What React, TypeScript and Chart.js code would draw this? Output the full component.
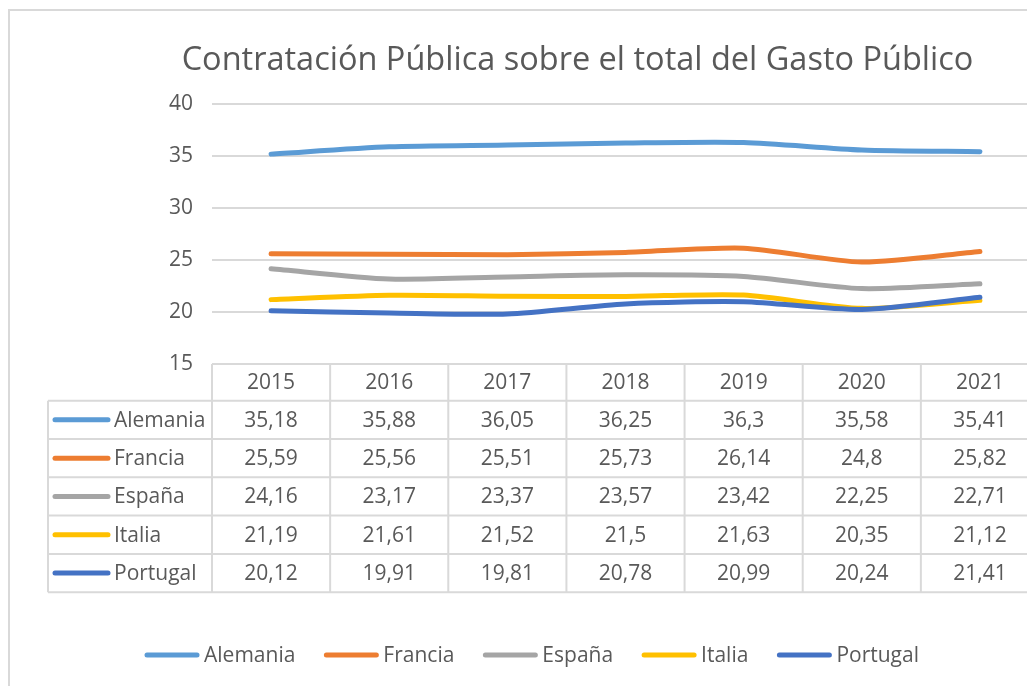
import React, { useEffect, useRef } from "react";
import { Chart, registerables } from "chart.js";

Chart.register(...registerables);

const title = "Contratación Pública sobre el total del Gasto Público";
const years = ["2015", "2016", "2017", "2018", "2019", "2020", "2021"];
const seriesNames = ["Alemania", "Francia", "España", "Italia", "Portugal"];
const seriesColors = ["#5B9BD5", "#ED7D31", "#A5A5A5", "#FFC000", "#4472C4"];
const alemania = [35.18, 35.88, 36.05, 36.25, 36.3, 35.58, 35.41];
const francia = [25.59, 25.56, 25.51, 25.73, 26.14, 24.8, 25.82];
const espana = [24.16, 23.17, 23.37, 23.57, 23.42, 22.25, 22.71];
const italia = [21.19, 21.61, 21.52, 21.5, 21.63, 20.35, 21.12];
const portugal = [20.12, 19.91, 19.81, 20.78, 20.99, 20.24, 21.41];
const seriesValues = [alemania, francia, espana, italia, portugal];
const yMin = 15;
const yMax = 40;
const yStep = 5;

const FONT = "'Open Sans', 'Liberation Sans', sans-serif";
const TEXT = "#595959";
const LINE = "#d9d9d9";

const fmt = (v: number) => String(v).replace(".", ",");

const decorPlugin = {
  id: "decor",
  beforeDraw(chart: any) {
    const ctx = chart.ctx;
    ctx.save();
    ctx.fillStyle = "#ffffff";
    ctx.fillRect(0, 0, chart.width, chart.height);
    ctx.strokeStyle = LINE;
    ctx.lineWidth = 2;
    ctx.strokeRect(9, 10, chart.width + 50, chart.height + 50);
    ctx.restore();
  },
  afterDraw(chart: any) {
    const ctx = chart.ctx;
    const xs = chart.scales.x;
    const area = chart.chartArea;
    const band = xs.getPixelForValue(1) - xs.getPixelForValue(0);
    const colLeft = area.left;
    const tableLeft = 48;
    const right = xs.getPixelForValue(years.length - 1) + band / 2;
    const headTop = area.bottom;
    const headH = 36.7;
    const rowH = 38.3;
    const rowsTop = headTop + headH;
    const bottom = rowsTop + rowH * seriesNames.length;

    ctx.save();
    ctx.strokeStyle = LINE;
    ctx.lineWidth = 2;
    ctx.beginPath();
    ctx.moveTo(colLeft, headTop);
    ctx.lineTo(right, headTop);
    for (let r = 0; r <= seriesNames.length; r++) {
      const y = rowsTop + r * rowH;
      ctx.moveTo(tableLeft, y);
      ctx.lineTo(right, y);
    }
    ctx.moveTo(tableLeft, rowsTop);
    ctx.lineTo(tableLeft, bottom);
    for (let i = 0; i <= years.length; i++) {
      const x = xs.getPixelForValue(0) - band / 2 + i * band;
      ctx.moveTo(x, headTop);
      ctx.lineTo(x, bottom);
    }
    ctx.stroke();

    ctx.fillStyle = TEXT;
    ctx.font = `21px ${FONT}`;
    ctx.textBaseline = "middle";
    ctx.textAlign = "center";
    years.forEach((yr, i) => {
      ctx.fillText(yr, xs.getPixelForValue(i), headTop + headH / 2 + 1);
    });
    seriesNames.forEach((name, r) => {
      const cy = rowsTop + r * rowH + rowH / 2 + 1;
      ctx.textAlign = "center";
      ctx.fillStyle = TEXT;
      seriesValues[r].forEach((v, i) => {
        ctx.fillText(fmt(v), xs.getPixelForValue(i), cy);
      });
      ctx.strokeStyle = seriesColors[r];
      ctx.lineWidth = 5;
      ctx.lineCap = "round";
      ctx.beginPath();
      ctx.moveTo(55, cy - 1);
      ctx.lineTo(108, cy - 1);
      ctx.stroke();
      ctx.textAlign = "left";
      ctx.fillText(name, 114, cy);
    });

    const swatch = 54;
    const gapText = 5;
    const gapItem = 29;
    const widths = seriesNames.map((n) => ctx.measureText(n).width);
    const total =
      widths.reduce((a, b) => a + b + swatch + gapText, 0) + gapItem * (seriesNames.length - 1);
    let x = 532 - total / 2;
    const ly = 655;
    seriesNames.forEach((name, r) => {
      ctx.strokeStyle = seriesColors[r];
      ctx.lineWidth = 5;
      ctx.lineCap = "round";
      ctx.beginPath();
      ctx.moveTo(x + 2, ly);
      ctx.lineTo(x + swatch - 2, ly);
      ctx.stroke();
      ctx.fillStyle = TEXT;
      ctx.textAlign = "left";
      ctx.fillText(name, x + swatch + gapText, ly + 1);
      x += swatch + gapText + widths[r] + gapItem;
    });
    ctx.restore();
  },
};

export default function App() {
  const ref = useRef<HTMLCanvasElement>(null);
  useEffect(() => {
    if (!ref.current) return;
    const chart = new Chart(ref.current, {
      type: "line",
      data: {
        labels: years,
        datasets: seriesNames.map((name, i) => ({
          label: name,
          data: seriesValues[i],
          borderColor: seriesColors[i],
          backgroundColor: seriesColors[i],
          borderWidth: 5,
          borderCapStyle: "round",
          borderJoinStyle: "round",
          pointRadius: 0,
          tension: 0.25,
          fill: false,
          order: seriesNames.length - 1 - i,
        })),
      },
      options: {
        responsive: false,
        animation: false,
        layout: { padding: { left: 116, right: 116, top: 0, bottom: 0 } },
        plugins: {
          legend: { display: false },
          tooltip: { enabled: false },
          title: {
            display: true,
            text: title,
            color: TEXT,
            font: { family: FONT, size: 32.5, weight: "normal" },
            padding: { top: 41.5, bottom: 23.5 },
          },
        },
        scales: {
          x: {
            type: "category",
            offset: true,
            grid: { display: false },
            border: { display: false },
            ticks: { display: false },
            afterFit: (s: any) => {
              s.height = 686 - 364;
            },
          },
          y: {
            min: yMin,
            max: yMax,
            ticks: {
              stepSize: yStep,
              color: TEXT,
              font: { family: FONT, size: 21 },
              padding: 19,
            },
            grid: { color: LINE, lineWidth: 2, drawTicks: false },
            border: { display: false },
            afterFit: (s: any) => {
              s.width = 212 - 116;
            },
          },
        },
      },
      plugins: [decorPlugin],
    } as any);
    return () => chart.destroy();
  }, []);
  return (
    <div
      style={{
        position: "absolute",
        left: 0,
        top: 0,
        width: 1027,
        height: 686,
        overflow: "hidden",
        background: "#fff",
      }}
    >
      <canvas ref={ref} width={1155} height={686} />
    </div>
  );
}
